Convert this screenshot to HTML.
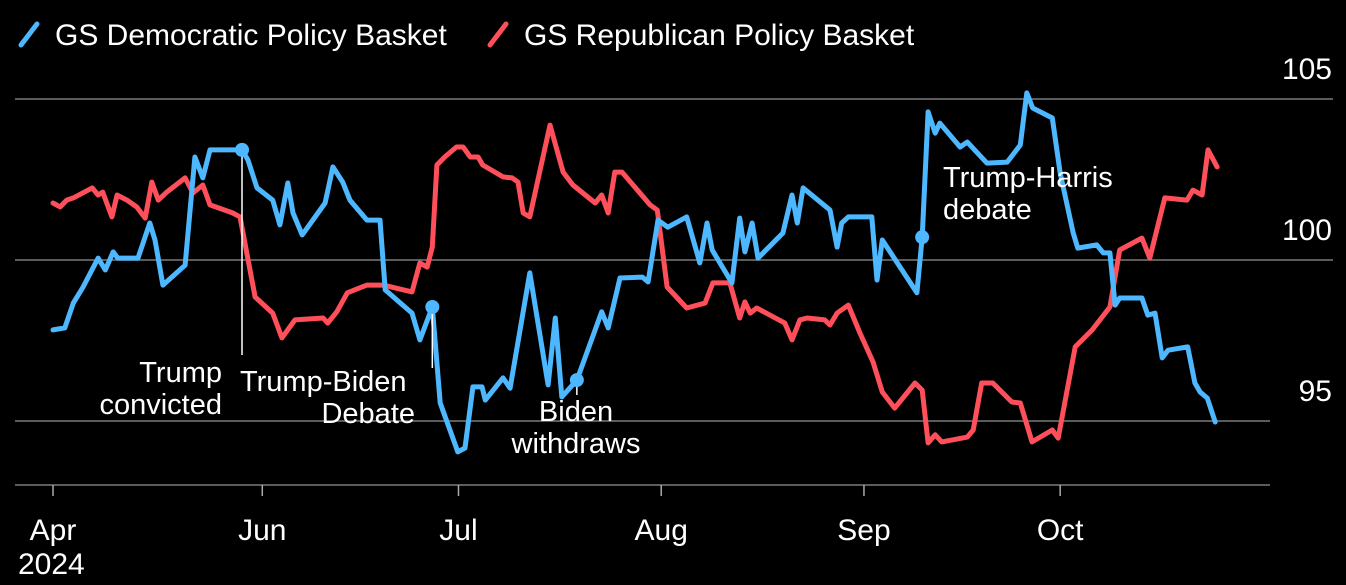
<!DOCTYPE html>
<html><head><meta charset="utf-8">
<style>
html,body{margin:0;padding:0;background:#000;}
svg{display:block;font-family:"Liberation Sans",sans-serif;}
</style></head>
<body>
<svg id="chart" width="1346" height="585" viewBox="0 0 1346 585" xmlns="http://www.w3.org/2000/svg">
<rect width="1346" height="585" fill="#000"/>
<g id="legend">
  <line x1="21" y1="45" x2="37" y2="24" stroke="#4db8ff" stroke-width="5" stroke-linecap="round"/>
  <text x="55" y="45" fill="#fff" font-size="30">GS Democratic Policy Basket</text>
  <line x1="490" y1="45" x2="506" y2="24" stroke="#ff4f5a" stroke-width="5" stroke-linecap="round"/>
  <text x="524" y="45" fill="#fff" font-size="30">GS Republican Policy Basket</text>
</g>
<g id="grid"></g>
<g id="xaxis"></g>
<g id="series"></g>
<g id="annot"></g>
</svg>
<script>
const dayTickLabels = ["Apr", "Jun", "Jul", "Aug", "Sep", "Oct"];
const dayTicks = [0, 32, 62, 93, 124, 154];
const yTicks = [95, 100, 105];
const demDays = [0,1.8,3.1,4.6,6.9,8.0,9.2,9.9,13.0,14.8,15.6,16.8,20.2,21.7,22.9,24.0,27.5,28.9,29.8,31.2,33.6,34.7,35.9,36.7,38.1,41.6,42.8,44.3,45.4,48.0,50.0,50.8,54.9,56.1,58.0,59.2,61.9,63.0,64.2,65.6,66.1,68.8,69.9,72.9,75.7,76.8,77.8,80.1,83.9,84.9,86.7,90.1,91.0,92.5,94.0,96.9,98.9,100.0,100.8,103.8,105.0,105.8,106.9,107.8,111.6,113.0,113.8,114.7,118.8,119.9,120.6,121.6,125.2,126.0,126.8,132.1,132.9,133.8,134.9,135.6,138.7,139.8,142.8,145.9,147.9,148.9,149.8,152.8,154.0,156.0,156.7,159.6,160.6,161.6,162.4,163.1,166.5,167.4,168.5,169.6,170.5,173.5,174.6,175.4,176.5,177.7];
const demValues = [97.83,97.89,98.66,99.16,100.06,99.69,100.25,100.06,100.06,101.15,100.62,99.22,99.84,103.20,102.55,103.42,103.42,103.42,103.11,102.24,101.86,101.09,102.39,101.46,100.78,101.77,102.89,102.42,101.86,101.24,101.24,99.07,98.35,97.52,98.54,95.56,94.04,94.16,96.06,96.06,95.65,96.34,96.02,99.60,96.12,98.20,95.75,96.27,98.39,97.89,99.44,99.47,99.32,101.24,101.02,101.34,99.91,101.15,100.31,99.29,101.30,100.25,101.15,100.06,100.84,102.02,101.15,102.24,101.55,100.40,101.15,101.34,101.34,99.38,100.62,98.98,100.71,104.60,103.94,104.25,103.51,103.66,103.01,103.04,103.57,105.19,104.72,104.41,102.70,100.84,100.37,100.47,100.22,100.22,98.60,98.82,98.82,98.29,98.35,96.96,97.20,97.30,96.18,95.90,95.71,94.97];
const repDays = [0,1.1,2.1,3.1,6.0,6.9,7.6,9.0,9.8,11.3,12.8,14.1,15.1,16.1,17.4,20.2,21.4,22.9,24.0,27.5,28.6,30.9,33.6,35.0,37.0,41.3,42.0,43.4,45.0,48.0,50.5,54.9,56.1,57.2,58.0,58.7,59.9,61.7,62.7,63.8,65.0,65.7,68.8,70.2,71.1,71.9,72.9,76.0,78.0,79.5,82.9,83.9,84.9,85.9,87.0,91.3,92.4,93.9,96.9,99.7,100.9,103.5,105.0,105.8,106.6,107.6,111.9,113.0,114.2,115.3,118.0,118.8,119.9,121.6,123.4,125.4,126.8,128.7,131.8,132.9,133.8,134.9,135.9,139.8,140.7,142.0,143.7,146.6,147.9,149.7,152.8,153.7,156.3,158.9,161.6,163.1,166.5,167.7,170.0,173.4,174.3,175.7,176.6,178.0];
const repValues = [101.77,101.65,101.86,101.93,102.24,102.02,102.11,101.34,102.02,101.86,101.65,101.30,102.42,101.86,102.11,102.55,102.08,102.33,101.71,101.46,101.34,98.85,98.35,97.58,98.14,98.20,98.04,98.39,98.98,99.22,99.22,99.01,99.91,99.78,100.40,102.95,103.20,103.51,103.51,103.20,103.20,102.95,102.58,102.55,102.42,101.46,101.34,104.19,102.73,102.33,101.77,102.02,101.46,102.73,102.73,101.71,101.55,99.16,98.51,98.66,99.29,99.29,98.20,98.70,98.35,98.51,98.04,97.52,98.14,98.20,98.14,97.98,98.35,98.60,97.73,96.83,95.90,95.40,96.18,95.96,94.32,94.57,94.35,94.50,94.72,96.18,96.18,95.59,95.56,94.35,94.72,94.47,97.30,97.83,98.54,100.31,100.68,100.06,101.93,101.86,102.17,102.02,103.42,102.89];
const eventDays = [28.9, 58.0, 80.1, 132.9];

const NS = "http://www.w3.org/2000/svg";
function X(d){ return 53 + d * 6.54; }
function Y(v){ return 260 - (v - 100) * 32.2; }
function mk(tag, attrs, parent){
  const el = document.createElementNS(NS, tag);
  for (const k in attrs) el.setAttribute(k, attrs[k]);
  parent.appendChild(el);
  return el;
}
function interp(days, vals, d){
  for (let i = 0; i < days.length - 1; i++){
    if (d >= days[i] && d <= days[i+1]){
      const t = (d - days[i]) / (days[i+1] - days[i] || 1);
      return vals[i] + t * (vals[i+1] - vals[i]);
    }
  }
  return vals[vals.length - 1];
}
const grid = document.getElementById('grid');
yTicks.forEach(v => {
  const x2 = v === yTicks[0] ? 1270 : 1333;
  const l = mk('line', {x1:15, x2:x2, y1:Y(v), y2:Y(v), stroke:'#7a7a7a', 'stroke-width':1.5}, grid);
  
  
  const t = mk('text', {x:1332, y:Y(v) - 20, fill:'#fff', 'font-size':30, 'text-anchor':'end'}, grid);
  t.textContent = v;
  
  
});
const xa = document.getElementById('xaxis');
const base = mk('line', {x1:15, x2:1270, y1:485, y2:485, stroke:'#7a7a7a', 'stroke-width':1.5}, xa);


dayTicks.forEach((d, i) => {
  const tk = mk('line', {x1:X(d), x2:X(d), y1:485, y2:496, stroke:'#aaa', 'stroke-width':1.5}, xa);
  
  
  const t = mk('text', {x:X(d), y:540, fill:'#fff', 'font-size':30, 'text-anchor':'middle'}, xa);
  t.textContent = dayTickLabels[i];
  
  
});
const yr = mk('text', {x:18, y:574, fill:'#fff', 'font-size':30, 'text-anchor':'start'}, xa);
yr.textContent = '2024';



const ann = document.getElementById('annot');
const stemEnds = [355, 368, 395, 237];
eventDays.forEach((d, i) => {
  const v = interp(demDays, demValues, d);
  const s = mk('line', {x1:X(d), x2:X(d), y1:Y(v), y2:stemEnds[i], stroke:'#fff', 'stroke-width':1.5}, ann);
  
  
});

const ser = document.getElementById('series');
function path(days, vals, color, name){
  const d = days.map((x, i) => (i ? 'L' : 'M') + X(x).toFixed(1) + ',' + Y(vals[i]).toFixed(1)).join(' ');
  const p = mk('path', {d:d, fill:'none', stroke:color, 'stroke-width':5, 'stroke-linejoin':'round', 'stroke-linecap':'round'}, ser);
  
  
}
path(repDays, repValues, '#ff4f5a', 'republican-basket-line');
path(demDays, demValues, '#4db8ff', 'democratic-basket-line');

eventDays.forEach((d, i) => {
  const v = interp(demDays, demValues, d);
  const c = mk('circle', {cx:X(d), cy:Y(v), r:7, fill:'#4db8ff'}, ann);
  
  
});
const labels = [
  ['Trump', 222, 382, 'end', 'annotation-trump-convicted-1'],
  ['convicted', 222, 414, 'end', 'annotation-trump-convicted-2'],
  ['Trump-Biden', 240, 391, 'start', 'annotation-trump-biden-1'],
  ['Debate', 415, 423, 'end', 'annotation-trump-biden-2'],
  ['Biden', 576, 421, 'middle', 'annotation-biden-withdraws-1'],
  ['withdraws', 576, 453, 'middle', 'annotation-biden-withdraws-2'],
  ['Trump-Harris', 943, 187, 'start', 'annotation-trump-harris-1'],
  ['debate', 943, 219, 'start', 'annotation-trump-harris-2']
];
labels.forEach(l => {
  const t = mk('text', {x:l[1], y:l[2], fill:'#fff', 'font-size':29, 'text-anchor':l[3]}, ann);
  t.textContent = l[0];
  
  
});
</script>
</body></html>
